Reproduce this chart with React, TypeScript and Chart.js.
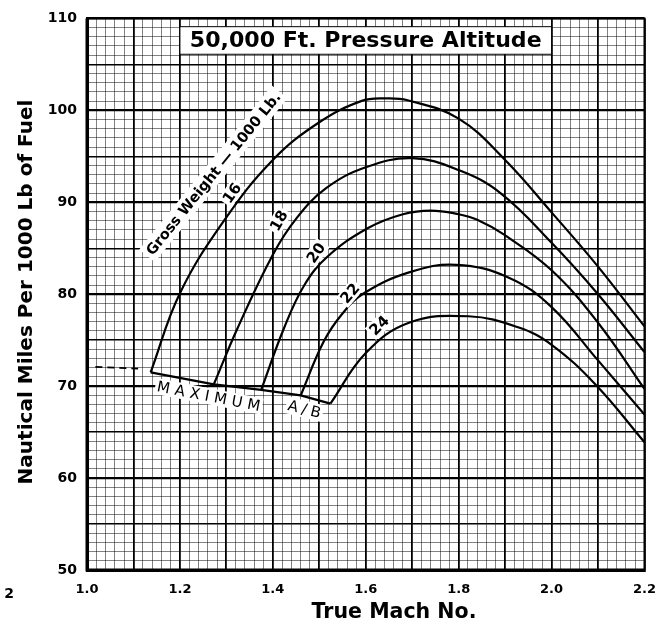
import React, { useEffect, useRef } from 'react';
import { Chart, registerables } from 'chart.js';

Chart.register(...registerables);

// ---- Data (True Mach No. vs Nautical Miles per 1000 Lb of Fuel) ----
const mach16 = [1.137, 1.20, 1.295, 1.40, 1.50, 1.59, 1.64, 1.69, 1.80, 1.90, 2.00, 2.10, 2.20];
const nm16 = [71.5, 80.1, 88.0, 94.6, 98.7, 101.0, 101.3, 101.1, 99.1, 94.6, 88.9, 83.0, 76.5];

const mach18 = [1.273, 1.324, 1.40, 1.45, 1.514, 1.60, 1.70, 1.80, 1.89, 2.00, 2.10, 2.20];
const nm18 = [70.2, 76.3, 84.3, 88.2, 91.5, 93.8, 94.8, 93.5, 91.0, 85.6, 80.0, 73.7];

const mach20 = [1.375, 1.424, 1.468, 1.518, 1.605, 1.68, 1.74, 1.80, 1.84, 1.897, 2.00, 2.10, 2.20];
const nm20 = [69.6, 76.3, 81.0, 84.1, 87.2, 88.7, 89.1, 88.7, 88.1, 86.5, 82.6, 76.9, 69.7];

const mach22 = [1.46, 1.509, 1.55, 1.596, 1.695, 1.795, 1.908, 2.00, 2.10, 2.20];
const nm22 = [69.0, 74.8, 77.9, 80.1, 82.4, 83.2, 81.8, 78.6, 72.8, 66.9];

const mach24 = [1.524, 1.60, 1.693, 1.821, 1.928, 2.00, 2.096, 2.20];
const nm24 = [68.1, 73.6, 76.9, 77.6, 76.4, 74.5, 70.1, 63.9];

const seriesMach = [mach16, mach18, mach20, mach22, mach24];
const seriesNm = [nm16, nm18, nm20, nm22, nm24];
const seriesNames = ['16', '18', '20', '22', '24'];

// Maximum afterburner line joining the curve starts
const maxAbMach = [1.137, 1.273, 1.375, 1.46, 1.524];
const maxAbNm = [71.5, 70.2, 69.6, 69.0, 68.1];
// dashed extension to the left
const extMach = [1.018, 1.11];
const extNm = [72.1, 71.9];

// axis ranges and labelled ticks
const xMin = 1.0, xMax = 2.2, xStep = 0.02;
const yMin = 50, yMax = 110, yStep = 1;
const xLabelValues = [1.0, 1.2, 1.4, 1.6, 1.8, 2.0, 2.2];
const yLabelValues = [50, 60, 70, 80, 90, 100, 110];

// texts
const titleText = '50,000 Ft. Pressure Altitude';
const xTitle = 'True Mach No.';
const yTitle = 'Nautical Miles Per 1000 Lb of Fuel';
const gwText = 'Gross Weight \u2014 1000 Lb.';
const maxText = 'MAXIMUM';
const abText = 'A/B';
const pageNo = '2';

// annotation anchors (data coordinates)
const curveLabelMach = [1.312, 1.413, 1.493, 1.566, 1.629];
const curveLabelNm = [91.0, 88.0, 84.5, 80.1, 76.6];
const curveLabelAngle = [-55, -60, -55, -50, -45];

const FAM = '"DejaVu Sans", sans-serif';

function near(v: number, step: number) {
  const r = v / step;
  return Math.abs(r - Math.round(r)) < 1e-6;
}

function drawLabel(ctx: CanvasRenderingContext2D, text: string, cx: number, cy: number, angleDeg: number, font: string, ls: number, pad: number) {
  ctx.save();
  ctx.translate(cx, cy);
  ctx.rotate((angleDeg * Math.PI) / 180);
  ctx.font = font;
  (ctx as any).letterSpacing = ls + 'px';
  const m = ctx.measureText(text);
  const w = m.width - ls;
  const h = (m.actualBoundingBoxAscent + m.actualBoundingBoxDescent) || 12;
  ctx.fillStyle = '#fff';
  ctx.fillRect(-w / 2 - pad, -h / 2 - pad, w + 2 * pad, h + 2 * pad);
  ctx.fillStyle = '#000';
  ctx.textAlign = 'center';
  ctx.textBaseline = 'middle';
  ctx.fillText(text, ls / 2, 1);
  ctx.restore();
}

function fitSize(ctx: CanvasRenderingContext2D, text: string, weight: string, target: number) {
  ctx.font = `${weight} 20px ${FAM}`;
  (ctx as any).letterSpacing = '0px';
  const w = ctx.measureText(text).width;
  return (20 * target) / w;
}

const decoPlugin = {
  id: 'deco',
  afterDatasetsDraw(chart: any) {
    const { ctx, scales } = chart;
    const xs = scales.x, ys = scales.y;
    ctx.save();
    // Title box
    const bx1 = xs.getPixelForValue(1.2), bx2 = xs.getPixelForValue(2.0);
    const by1 = ys.getPixelForValue(109.1), by2 = ys.getPixelForValue(106.1);
    ctx.fillStyle = '#fff';
    ctx.fillRect(bx1, by1, bx2 - bx1, by2 - by1);
    ctx.strokeStyle = '#000';
    ctx.lineWidth = 1;
    ctx.strokeRect(bx1, by1, bx2 - bx1, by2 - by1);
    const ts = fitSize(ctx, titleText, 'bold', 352);
    ctx.font = `bold ${ts}px ${FAM}`;
    ctx.fillStyle = '#000';
    ctx.textAlign = 'center';
    ctx.textBaseline = 'middle';
    ctx.fillText(titleText, (bx1 + bx2) / 2, (by1 + by2) / 2 + 1);

    // curve labels
    for (let i = 0; i < seriesNames.length; i++) {
      drawLabel(ctx, seriesNames[i], xs.getPixelForValue(curveLabelMach[i]), ys.getPixelForValue(curveLabelNm[i]), curveLabelAngle[i], `bold 15px ${FAM}`, 0, 2);
    }
    // gross weight label
    const gs = fitSize(ctx, gwText, 'bold', 205);
    drawLabel(ctx, gwText, xs.getPixelForValue(1.272), ys.getPixelForValue(93.1), -51, `bold ${gs}px ${FAM}`, 0, 3);
    // maximum A/B
    drawLabel(ctx, maxText, xs.getPixelForValue(1.262), ys.getPixelForValue(68.9), 11, `15px ${FAM}`, 5, 2);
    drawLabel(ctx, abText, xs.getPixelForValue(1.468), ys.getPixelForValue(67.5), 14, `15px ${FAM}`, 4, 2);
    ctx.restore();
  },
  afterDraw(chart: any) {
    const { ctx, chartArea } = chart;
    ctx.save();
    // frame
    ctx.strokeStyle = '#000';
    ctx.lineWidth = 2;
    ctx.beginPath();
    ctx.moveTo(chartArea.left, chartArea.top);
    ctx.lineTo(chartArea.right, chartArea.top);
    ctx.lineTo(chartArea.right, chartArea.bottom);
    ctx.stroke();
    ctx.lineWidth = 3;
    ctx.beginPath();
    ctx.moveTo(chartArea.left, chartArea.top);
    ctx.lineTo(chartArea.left, chartArea.bottom);
    ctx.lineTo(chartArea.right, chartArea.bottom);
    ctx.stroke();

    ctx.fillStyle = '#000';
    ctx.textAlign = 'center';
    ctx.textBaseline = 'middle';
    // x title
    const xsz = fitSize(ctx, xTitle, 'bold', 165);
    ctx.font = `bold ${xsz}px ${FAM}`;
    ctx.fillText(xTitle, 394, 613);
    // y title
    const ysz = fitSize(ctx, yTitle, 'bold', 385);
    ctx.save();
    ctx.translate(27, 292);
    ctx.rotate(-Math.PI / 2);
    ctx.font = `bold ${ysz}px ${FAM}`;
    ctx.fillText(yTitle, 0, 0);
    ctx.restore();
    // page number
    ctx.font = `bold 14px ${FAM}`;
    ctx.fillText(pageNo, 9, 594);
    ctx.restore();
  },
};

export default function App() {
  const ref = useRef<HTMLCanvasElement | null>(null);
  useEffect(() => {
    if (!ref.current) return;
    const toPts = (xa: number[], ya: number[]) => xa.map((v, i) => ({ x: v, y: ya[i] }));
    const datasets: any[] = seriesNames.map((n, i) => ({
      label: n,
      data: toPts(seriesMach[i], seriesNm[i]),
      borderColor: '#000',
      borderWidth: 2.2,
      pointRadius: 0,
      fill: false,
      tension: 0.4,
    }));
    datasets.push({
      label: 'max',
      data: toPts(maxAbMach, maxAbNm),
      borderColor: '#000',
      borderWidth: 2.2,
      pointRadius: 0,
      fill: false,
      tension: 0,
    });
    datasets.push({
      label: 'ext',
      data: toPts(extMach, extNm),
      borderColor: '#000',
      borderWidth: 1.8,
      borderDash: [7, 5],
      pointRadius: 0,
      fill: false,
      tension: 0,
    });

    const chart = new Chart(ref.current, {
      type: 'line',
      data: { datasets },
      options: {
        animation: false,
        responsive: false,
        maintainAspectRatio: false,
        layout: { padding: { top: 11, right: 18, left: 0, bottom: 0 } },
        plugins: { legend: { display: false }, tooltip: { enabled: false }, title: { display: false } },
        scales: {
          x: {
            type: 'linear',
            min: xMin,
            max: xMax,
            afterFit: (s: any) => { s.height = 59; },
            ticks: {
              stepSize: xStep,
              autoSkip: false,
              maxRotation: 0,
              minRotation: 0,
              maxTicksLimit: 1000,
              padding: 12,
              color: '#000',
              font: { family: 'DejaVu Sans', size: 13, weight: 'bold' },
              callback: (v: any) => {
                const val = Number(v);
                return xLabelValues.some((t) => Math.abs(t - val) < 1e-6) ? val.toFixed(1) : '';
              },
            },
            grid: {
              drawTicks: false,
              color: (c: any) => (near(c.tick.value, 0.1) ? '#000' : 'rgba(0,0,0,0.7)'),
              lineWidth: (c: any) => (near(c.tick.value, 0.1) ? 1.8 : 0.7),
            },
            border: { display: true, color: '#000', width: 3 },
          },
          y: {
            type: 'linear',
            min: yMin,
            max: yMax,
            afterFit: (s: any) => { s.width = 87; },
            ticks: {
              stepSize: yStep,
              autoSkip: false,
              maxTicksLimit: 1000,
              padding: 10,
              color: '#000',
              font: { family: 'DejaVu Sans', size: 14, weight: 'bold' },
              callback: (v: any) => {
                const val = Number(v);
                return yLabelValues.some((t) => Math.abs(t - val) < 1e-6) ? String(Math.round(val)) : '';
              },
            },
            grid: {
              drawTicks: false,
              color: (c: any) => (near(c.tick.value, 5) ? '#000' : 'rgba(0,0,0,0.7)'),
              lineWidth: (c: any) => (near(c.tick.value, 10) ? 2.2 : near(c.tick.value, 5) ? 1.4 : 0.7),
            },
            border: { display: true, color: '#000', width: 3 },
          },
        },
      },
      plugins: [decoPlugin],
    });
    return () => chart.destroy();
  }, []);

  return (
    <div style={{ position: 'absolute', left: 0, top: 0, width: 668, height: 629, background: '#fff' }}>
      <canvas ref={ref} width={668} height={629} style={{ width: 668, height: 629 }} />
    </div>
  );
}
